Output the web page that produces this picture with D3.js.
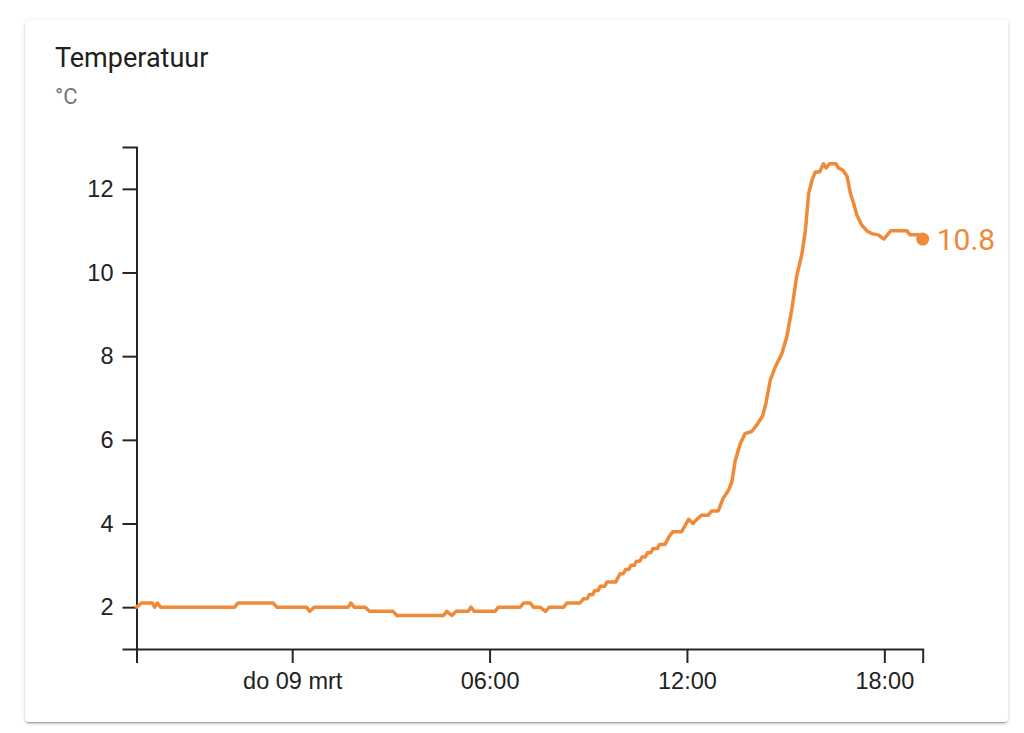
<!DOCTYPE html>
<html>
<head>
<meta charset="utf-8">
<script src="https://cdn.jsdelivr.net/npm/d3@7"></script>
<style>
  html, body { margin: 0; padding: 0; background: #ffffff; }
  body { width: 1024px; height: 733px; position: relative; overflow: hidden; }
  .card {
    position: absolute; left: 25px; top: 20px; width: 983px; height: 702px;
    background: #fff; border-radius: 4px;
    box-shadow: 0 2px 2px 0 rgba(0,0,0,0.14), 0 1px 5px 0 rgba(0,0,0,0.12), 0 3px 1px -2px rgba(0,0,0,0.2);
  }
  svg { position: absolute; left: 0; top: 0; }
</style>
</head>
<body>
<div class="card"></div>
<svg id="chart" width="1024" height="733"></svg>
<script>
const title = "Temperatuur";
const unit = "°C";
const times = [
  "2023-03-08T19:16","2023-03-08T19:25","2023-03-08T19:45","2023-03-08T19:49","2023-03-08T19:54","2023-03-08T20:00",
  "2023-03-08T22:15","2023-03-08T22:21","2023-03-08T23:25","2023-03-08T23:32",
  "2023-03-09T00:26","2023-03-09T00:32","2023-03-09T00:40","2023-03-09T01:42","2023-03-09T01:47","2023-03-09T01:53",
  "2023-03-09T02:13","2023-03-09T02:21","2023-03-09T03:04","2023-03-09T03:11","2023-03-09T04:36","2023-03-09T04:42",
  "2023-03-09T04:51","2023-03-09T04:59","2023-03-09T05:21","2023-03-09T05:26","2023-03-09T05:32","2023-03-09T06:10",
  "2023-03-09T06:16","2023-03-09T06:56","2023-03-09T07:02","2023-03-09T07:14","2023-03-09T07:20","2023-03-09T07:32",
  "2023-03-09T07:42","2023-03-09T07:49","2023-03-09T08:15","2023-03-09T08:21","2023-03-09T08:45","2023-03-09T08:51",
  "2023-03-09T08:58","2023-03-09T09:02","2023-03-09T09:08","2023-03-09T09:12","2023-03-09T09:18","2023-03-09T09:22",
  "2023-03-09T09:30","2023-03-09T09:34","2023-03-09T09:50","2023-03-09T09:54","2023-03-09T09:58","2023-03-09T10:04",
  "2023-03-09T10:08","2023-03-09T10:14","2023-03-09T10:18","2023-03-09T10:24","2023-03-09T10:28","2023-03-09T10:34",
  "2023-03-09T10:38","2023-03-09T10:44","2023-03-09T10:48","2023-03-09T10:54","2023-03-09T10:58","2023-03-09T11:06",
  "2023-03-09T11:10","2023-03-09T11:20","2023-03-09T11:28","2023-03-09T11:34","2023-03-09T11:50",
  "2023-03-09T12:03","2023-03-09T12:11","2023-03-09T12:18",
  "2023-03-09T12:27","2023-03-09T12:39","2023-03-09T12:45","2023-03-09T12:57","2023-03-09T13:06","2023-03-09T13:16",
  "2023-03-09T13:22","2023-03-09T13:28","2023-03-09T13:37","2023-03-09T13:46","2023-03-09T13:58","2023-03-09T14:07",
  "2023-03-09T14:18","2023-03-09T14:24","2023-03-09T14:32","2023-03-09T14:41","2023-03-09T14:53","2023-03-09T15:02",
  "2023-03-09T15:11","2023-03-09T15:20","2023-03-09T15:30","2023-03-09T15:36","2023-03-09T15:42","2023-03-09T15:48",
  "2023-03-09T15:54","2023-03-09T16:02","2023-03-09T16:09","2023-03-09T16:14","2023-03-09T16:20","2023-03-09T16:32",
  "2023-03-09T16:36","2023-03-09T16:44","2023-03-09T16:52","2023-03-09T16:58","2023-03-09T17:04","2023-03-09T17:10",
  "2023-03-09T17:19","2023-03-09T17:28","2023-03-09T17:37","2023-03-09T17:49","2023-03-09T17:59","2023-03-09T18:12",
  "2023-03-09T18:41","2023-03-09T18:47","2023-03-09T19:02","2023-03-09T19:10"
];
const temps = [
  2.0,2.1,2.1,2.0,2.1,2.0,
  2.0,2.1,2.1,2.0,
  2.0,1.9,2.0,2.0,2.1,2.0,
  2.0,1.9,1.9,1.8,1.8,1.9,
  1.8,1.9,1.9,2.0,1.9,1.9,
  2.0,2.0,2.1,2.1,2.0,2.0,
  1.9,2.0,2.0,2.1,2.1,2.2,
  2.2,2.3,2.3,2.4,2.4,2.5,
  2.5,2.6,2.6,2.7,2.8,2.8,
  2.9,2.9,3.0,3.0,3.1,3.1,
  3.2,3.2,3.3,3.3,3.4,3.4,
  3.5,3.5,3.7,3.8,3.8,
  4.1,4.0,4.1,
  4.2,4.2,4.3,4.3,4.6,4.8,
  5.0,5.5,5.9,6.15,6.2,6.35,
  6.57,6.87,7.43,7.74,8.06,8.46,
  9.1,9.9,10.46,11.0,11.89,12.2,
  12.4,12.4,12.6,12.5,12.6,12.6,
  12.5,12.45,12.3,11.9,11.65,11.37,
  11.13,11.0,10.93,10.9,10.8,11.0,
  11.0,10.9,10.9,10.8
];
const yTickValues = [2, 4, 6, 8, 10, 12];
const yDomain = [1, 13];
const currentLabel = "10.8";

const parse = d3.timeParse("%Y-%m-%dT%H:%M");
const data = times.map((t, i) => ({ t: parse(t), v: temps[i] }));

const svg = d3.select("#chart");
const color = "#ef8a38";
const axisColor = "#262626";

const x = d3.scaleTime().domain(d3.extent(data, d => d.t)).range([136.5, 922.7]);
const y = d3.scaleLinear().domain(yDomain).range([649, 147]);

svg.append("text").attr("x", 55).attr("y", 67)
  .attr("font-family", "Roboto, sans-serif").attr("font-size", 27)
  .attr("fill", "#212121").text(title);
svg.append("text").attr("x", 55).attr("y", 104)
  .attr("font-family", "Roboto, sans-serif").attr("font-size", 22)
  .attr("fill", "#757575").text(unit);

const months = ["jan","feb","mrt","apr","mei","jun","jul","aug","sep","okt","nov","dec"];
const days = ["zo","ma","di","wo","do","vr","za"];
const fmt = d => (d.getHours() === 0 && d.getMinutes() === 0)
  ? `${days[d.getDay()]} ${String(d.getDate()).padStart(2,"0")} ${months[d.getMonth()]}`
  : d3.timeFormat("%H:%M")(d);

const xAxis = d3.axisBottom(x).ticks(d3.timeHour.every(6)).tickFormat(fmt).tickSize(14).tickPadding(9);
const yAxis = d3.axisLeft(y).tickValues(yTickValues).tickSize(14).tickPadding(9);

const gx = svg.append("g").attr("transform", `translate(0,${y(yDomain[0])})`).call(xAxis);
const gy = svg.append("g").attr("transform", `translate(${x.range()[0]},0)`).call(yAxis);

[gx, gy].forEach(g => {
  g.selectAll("path, line").attr("stroke", axisColor).attr("stroke-width", 2);
  g.selectAll("text").attr("font-family", "'Liberation Sans', Arial, sans-serif")
    .attr("font-size", 23.5).attr("fill", "#222");
});

const line = d3.line().x(d => x(d.t)).y(d => y(d.v));
svg.append("path").datum(data).attr("d", line)
  .attr("fill", "none").attr("stroke", color).attr("stroke-width", 3.5)
  .attr("stroke-linejoin", "round").attr("stroke-linecap", "round");

const last = data[data.length - 1];
svg.append("circle").attr("cx", x(last.t)).attr("cy", y(last.v)).attr("r", 6.5).attr("fill", color);
svg.append("text").attr("x", x(last.t) + 14).attr("y", y(last.v) + 11)
  .attr("font-family", "Roboto, sans-serif").attr("font-size", 30)
  .attr("fill", color).text(currentLabel);
</script>
</body>
</html>
